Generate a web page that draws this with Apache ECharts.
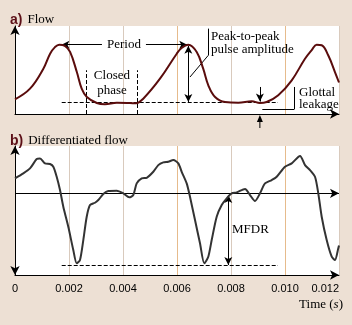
<!DOCTYPE html>
<html>
<head>
<meta charset="utf-8">
<script src="https://cdn.jsdelivr.net/npm/echarts@6/dist/echarts.min.js"></script>
<style>
  html, body { margin: 0; padding: 0; background: #ede0d4; }
  #chart { width: 352px; height: 325px; }
</style>
</head>
<body>
<div id="chart"></div>
<script>
// a) flow, time in ms, value in arbitrary units (0..100)
const flowTimeMs = [0, 0.556, 1.05, 1.30, 1.48, 1.64, 1.85, 2.04, 2.29, 2.47, 2.66, 3.03, 3.33, 3.77, 4.26, 4.48, 4.75, 5.37, 5.99, 6.17, 6.42, 6.73, 6.97, 7.16, 7.41, 7.78, 8.27, 8.77, 9.07, 9.32, 9.75, 10.25, 10.74, 10.99, 11.17, 11.36, 11.60, 11.85, 12.0]
const flowValue = [16.7, 28.8, 51.5, 68.5, 76.0, 78.8, 77.3, 70.5, 47.7, 28.8, 19.3, 12.5, 11.0, 12.8, 12.5, 12.2, 17.4, 40.1, 68.5, 75.0, 78.8, 70.5, 51.5, 32.6, 19.3, 13.6, 12.8, 14.4, 12.5, 13.6, 21.3, 38.3, 62.8, 72.7, 78.8, 78.1, 66.7, 47.7, 35.8]

// b) differentiated flow
const dflowTimeMs = [0, 0.307, 0.556, 0.804, 0.926, 1.111, 1.296, 1.419, 1.544, 1.667, 1.789, 1.974, 2.159, 2.285, 2.407, 2.530, 2.656, 2.778, 2.963, 3.085, 3.270, 3.456, 3.767, 4.011, 4.233, 4.381, 4.507, 4.693, 4.878, 5.122, 5.307, 5.493, 5.678, 5.863, 6.048, 6.174, 6.359, 6.481, 6.667, 6.852, 7.011, 7.159, 7.285, 7.470, 7.656, 7.841, 8.026, 8.211, 8.519, 8.704, 8.889, 9.074, 9.259, 9.507, 9.693, 10.0, 10.248, 10.556, 10.741, 10.926, 11.111, 11.233, 11.359, 11.544, 11.730, 11.852, 11.974, 12.0]
const dflowValue = [0.184, 0.245, 0.306, 0.420, 0.428, 0.367, 0.359, 0.326, 0.203, 0.040, -0.164, -0.409, -0.694, -0.857, -0.816, -0.572, -0.286, -0.143, -0.115, -0.082, -0.009, 0.028, 0.032, 0, -0.049, -0.021, 0.122, 0.184, 0.191, 0.264, 0.346, 0.379, 0.387, 0.408, 0.367, 0.264, 0.122, -0.042, -0.327, -0.612, -0.857, -0.776, -0.572, -0.286, -0.143, -0.061, 0, 0.012, 0.053, -0.021, -0.094, 0, 0.122, 0.163, 0.203, 0.326, 0.367, 0.457, 0.346, 0.285, 0.203, 0, -0.286, -0.572, -0.776, -0.816, -0.673, -0.64]

const timeTicks = [0, 0.002, 0.004, 0.006, 0.008, 0.010, 0.012]

// annotation anchors (ms / value)
const leakageLevel = 13.6
const closedPhaseMs = [2.65, 4.53]
const periodMs = [1.72, 6.38]
const peakLevel = 78.8
const leakageMarkMs = 9.07
const mfdrMs = 7.9
const mfdrLevel = -0.878
const dashStartMs = 1.73
const dashEndMs = 9.74

const serif = '"Liberation Serif", "DejaVu Serif", serif'
const sans = '"Liberation Sans", Arial, sans-serif'
const gridColors = ['#d9cabd', '#d9cabd', '#d9cabd', '#e6bb8c', '#d9cabd', '#e6bb8c', '#d9cabd']

const s = ms => ms / 1000
const pairs = (ts, vs) => ts.map((t, i) => [s(t), vs[i]])

const chart = echarts.init(document.getElementById('chart'))

function thin(type) {
  return { color: '#000', width: 1, type: type || 'solid' }
}

function seg(x1, y1, x2, y2, opts) {
  return [
    Object.assign({ coord: [s(x1), y1], symbol: 'none' }, opts && opts.from),
    Object.assign({ coord: [s(x2), y2], symbol: 'none' }, opts && opts.to),
  ]
}

const arrowHead = { symbol: 'arrow', symbolSize: [6, 8] }

function makeXAxis(gridIndex, showLabels) {
  return {
    type: 'value',
    gridIndex,
    min: 0,
    max: 0.012,
    interval: 0.002,
    axisLine: {
      onZero: false,
      lineStyle: { color: '#000', width: 1 },
      symbol: ['none', 'arrow'],
      symbolSize: [7, 9],
    },
    axisTick: { show: false },
    splitLine: { show: true, lineStyle: { color: gridColors, width: 1 } },
    axisLabel: {
      show: showLabels,
      margin: 8,
      color: '#000',
      fontFamily: sans,
      fontSize: 11,
      alignMaxLabel: 'right',
      formatter: v => (v === 0 ? '0' : v.toFixed(3)),
    },
  }
}

function panelTitle(tag, text, top) {
  return {
    left: 5, top,
    text: '{a|' + tag + '} {t|' + text + '}',
    textStyle: {
      rich: {
        a: { fontFamily: sans, fontWeight: 'bold', fontSize: 14, color: '#5c0f17' },
        t: { fontFamily: serif, fontWeight: 'normal', fontSize: 13, color: '#000' },
      },
    },
  }
}

const option = {
  animation: false,
  backgroundColor: '#ede0d4',
  title: [panelTitle('a)', 'Flow', 6), panelTitle('b)', 'Differentiated flow', 127)],
  grid: [
    { left: 15, top: 26, width: 324, height: 88, show: true, backgroundColor: '#fff', borderWidth: 0 },
    { left: 15, top: 146, width: 324, height: 129, show: true, backgroundColor: '#fff', borderWidth: 0 },
  ],
  xAxis: [makeXAxis(0, false), makeXAxis(1, true)],
  yAxis: [
    {
      type: 'value', gridIndex: 0, min: 0, max: 100,
      axisLine: { show: true, onZero: false, lineStyle: { color: '#000' }, symbol: ['none', 'arrow'], symbolSize: [7, 9] },
      axisTick: { show: false }, axisLabel: { show: false }, splitLine: { show: false },
    },
    {
      type: 'value', gridIndex: 1, min: -1, max: 0.58,
      axisLine: { show: true, onZero: false, lineStyle: { color: '#000' }, symbol: ['arrow', 'arrow'], symbolSize: [7, 9] },
      axisTick: { show: false }, axisLabel: { show: false }, splitLine: { show: false },
    },
  ],
  series: [
    {
      name: 'flow',
      type: 'line',
      xAxisIndex: 0,
      yAxisIndex: 0,
      data: pairs(flowTimeMs, flowValue),
      smooth: 0.4,
      showSymbol: false,
      clip: false,
      lineStyle: { color: '#5a0c0c', width: 2 },
      z: 5,
      markLine: {
        silent: true,
        label: { show: false },
        lineStyle: thin(),
        data: [
          seg(dashStartMs, leakageLevel, dashEndMs, leakageLevel, { from: { lineStyle: thin('dashed') } }),
          seg(closedPhaseMs[0], 0, closedPhaseMs[0], 49.7, { from: { lineStyle: thin('dashed') } }),
          seg(closedPhaseMs[1], 0, closedPhaseMs[1], 49.7, { from: { lineStyle: thin('dashed') } }),
          // period arrow, broken round its text
          seg(periodMs[0], peakLevel, 3.22, peakLevel, { from: arrowHead }),
          seg(4.85, peakLevel, periodMs[1], peakLevel, { to: arrowHead }),
          // peak-to-peak amplitude
          seg(6.42, 77.5, 6.42, leakageLevel, { from: arrowHead, to: arrowHead }),
          seg(7.16, 97, 7.16, 66.7),
          seg(7.16, 66.7, 6.48, 42),
          // glottal leakage
          seg(leakageMarkMs, 30.7, leakageMarkMs, leakageLevel + 0.5, { to: arrowHead }),
          seg(9.16, 5.3, 10.34, 5.3),
          seg(10.34, 5.3, 10.34, 30.7),
        ],
      },
    },
    {
      name: 'dflow',
      type: 'line',
      xAxisIndex: 1,
      yAxisIndex: 1,
      data: pairs(dflowTimeMs, dflowValue),
      smooth: 0.25,
      showSymbol: false,
      clip: false,
      lineStyle: { color: '#333', width: 2 },
      z: 5,
      markLine: {
        silent: true,
        label: { show: false },
        lineStyle: thin(),
        data: [
          [{ coord: [0, 0], symbol: 'none' }, { coord: [0.012, 0], symbol: 'arrow', symbolSize: [7, 9] }],
          seg(dashStartMs, mfdrLevel, dashEndMs, mfdrLevel, { from: { lineStyle: thin('dashed') } }),
          seg(mfdrMs, -0.02, mfdrMs, mfdrLevel, { from: arrowHead, to: arrowHead }),
        ],
      },
    },
  ],
}

chart.setOption(option)

// texts and the small arrow under the flow axis, placed from data positions
function px(grid, ms, v) {
  return chart.convertToPixel({ gridIndex: grid }, [s(ms), v])
}
const underAxis = px(0, leakageMarkMs, 0)
const periodMid = px(0, (3.22 + 4.85) / 2, peakLevel)
const closedMid = px(0, (closedPhaseMs[0] + closedPhaseMs[1]) / 2, 0)

function txt(x, y, text, align, extra) {
  return {
    type: 'text', x, y, silent: true,
    style: Object.assign({ text, fill: '#000', font: '13px ' + serif, align: align || 'left', verticalAlign: 'middle' }, extra),
  }
}

chart.setOption({
  graphic: [
    { type: 'line', silent: true, shape: { x1: underAxis[0], y1: underAxis[1] + 14, x2: underAxis[0], y2: underAxis[1] + 6 }, style: { stroke: '#000', lineWidth: 1 } },
    { type: 'polygon', silent: true, shape: { points: [[underAxis[0], underAxis[1] + 1], [underAxis[0] - 3, underAxis[1] + 8], [underAxis[0] + 3, underAxis[1] + 8]] }, style: { fill: '#000' } },
    txt(periodMid[0], periodMid[1], 'Period', 'center'),
    txt(closedMid[0], 76, 'Closed', 'center'),
    txt(closedMid[0], 91, 'phase', 'center'),
    txt(211, 37, 'Peak-to-peak'),
    txt(211, 50, 'pulse amplitude'),
    txt(299, 93, 'Glottal'),
    txt(299, 105, 'leakage'),
    txt(232, 230, 'MFDR'),
    {
      type: 'text', silent: true, x: 343, y: 305,
      style: {
        text: '{n|Time (}{i|s}{n|)}', align: 'right', verticalAlign: 'middle',
        rich: {
          n: { fontFamily: serif, fontSize: 13, fill: '#000' },
          i: { fontFamily: serif, fontSize: 13, fontStyle: 'italic', fill: '#000' },
        },
      },
    },
  ],
})
</script>
</body>
</html>
